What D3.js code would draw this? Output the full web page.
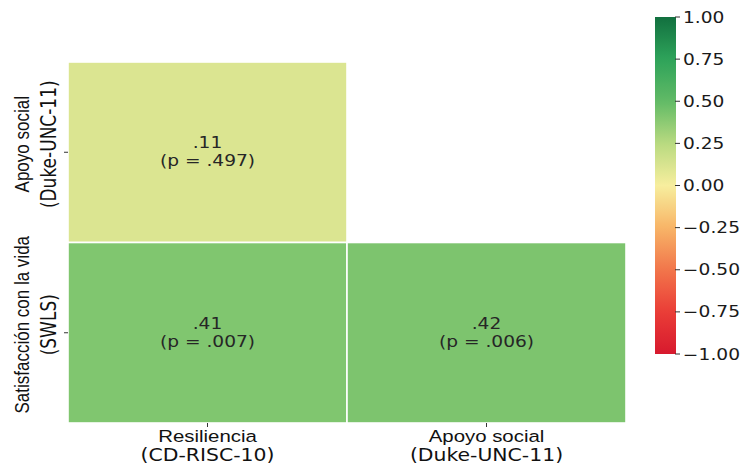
<!DOCTYPE html>
<html>
<head>
<meta charset="utf-8">
<script src="https://cdn.jsdelivr.net/npm/d3@7"></script>
<style>
  html, body { margin: 0; padding: 0; background: #ffffff; }
  svg { display: block; }
</style>
</head>
<body>
<svg id="chart" width="744" height="468"></svg>
<script>
// Correlation matrix (lower triangle) with p-values
const rowLabels = [["Apoyo social", "(Duke-UNC-11)"], ["Satisfacción con la vida", "(SWLS)"]];
const colLabels = [["Resiliencia", "(CD-RISC-10)"], ["Apoyo social", "(Duke-UNC-11)"]];
const rValues = [[0.11, null], [0.41, 0.42]];
const pValues = [[0.497, null], [0.007, 0.006]];
const colorbarTicks = [1.00, 0.75, 0.50, 0.25, 0.00, -0.25, -0.50, -0.75, -1.00];

// Diverging red-yellow-green palette
const paletteStops = [-1, -0.75, -0.5, -0.25, 0, 0.25, 0.5, 0.75, 1];
const paletteColors = ["#d7192e", "#ea3d37", "#f2764b", "#f8b567", "#f7ee9e",
                       "#b8da80", "#61ba66", "#2ea35a", "#12703f"];

const color = d3.scaleLinear().domain(paletteStops).range(paletteColors)
  .interpolate(d3.interpolateRgb).clamp(true);

const svg = d3.select("#chart");
const SX = 1.2; // horizontal text stretch
const textColor = "#262626";

const x = d3.scaleBand().domain(d3.range(colLabels.length)).range([68, 626]);
const y = d3.scaleBand().domain(d3.range(rowLabels.length)).range([62, 423]);

const fmt = v => d3.format(".2f")(v).replace(/^0\./, ".").replace(/^-0\./, "-.");
const fmtP = v => d3.format(".3f")(v).replace(/^0\./, ".");

// Cells
const cells = [];
rValues.forEach((row, i) => row.forEach((v, j) => {
  if (v !== null) cells.push({ i, j, r: v, p: pValues[i][j] });
}));

const g = svg.append("g");
g.selectAll("rect.cell").data(cells).join("rect")
  .attr("class", "cell")
  .attr("x", d => x(d.j))
  .attr("y", d => y(d.i))
  .attr("width", x.bandwidth())
  .attr("height", y.bandwidth())
  .attr("fill", d => color(d.r))
  .attr("stroke", "#ffffff")
  .attr("stroke-width", 1.6);

const labels = g.selectAll("g.val").data(cells).join("g")
  .attr("class", "val")
  .attr("transform", d => `translate(${x(d.j) + x.bandwidth() / 2},${y(d.i) + y.bandwidth() / 2}) scale(${SX},1)`);
labels.append("text")
  .attr("y", -4)
  .attr("text-anchor", "middle")
  .attr("font-family", "DejaVu Sans")
  .attr("font-size", 15.5)
  .attr("fill", textColor)
  .text(d => fmt(d.r));
labels.append("text")
  .attr("y", 14)
  .attr("text-anchor", "middle")
  .attr("font-family", "DejaVu Sans")
  .attr("font-size", 15.5)
  .attr("fill", textColor)
  .text(d => `(p = ${fmtP(d.p)})`);

// Left axis: ticks and rotated labels
const yTicks = svg.append("g");
yTicks.selectAll("line").data(d3.range(rowLabels.length)).join("line")
  .attr("x1", 64).attr("x2", 68)
  .attr("y1", i => y(i) + y.bandwidth() / 2)
  .attr("y2", i => y(i) + y.bandwidth() / 2)
  .attr("stroke", "#333").attr("stroke-width", 1);

const yl = yTicks.selectAll("g.ylab").data(rowLabels).join("g")
  .attr("class", "ylab")
  .attr("transform", (d, i) => `translate(0,${y(i) + y.bandwidth() / 2 - 8}) scale(${SX},1) rotate(-90)`);
yl.append("text")
  .attr("y", 24)
  .attr("text-anchor", "middle")
  .attr("font-family", "Liberation Sans, Arial, sans-serif")
  .attr("font-size", 17)
  .attr("fill", "#111")
  .text(d => d[0]);
yl.append("text")
  .attr("y", 46.5)
  .attr("text-anchor", "middle")
  .attr("font-family", "DejaVu Sans")
  .attr("font-size", 17)
  .attr("fill", "#111")
  .text(d => d[1]);

// Bottom axis: ticks and labels
const xTicks = svg.append("g");
xTicks.selectAll("line").data(d3.range(colLabels.length)).join("line")
  .attr("x1", j => x(j) + x.bandwidth() / 2)
  .attr("x2", j => x(j) + x.bandwidth() / 2)
  .attr("y1", 423).attr("y2", 427)
  .attr("stroke", "#333").attr("stroke-width", 1);

const xl = xTicks.selectAll("g.xlab").data(colLabels).join("g")
  .attr("class", "xlab")
  .attr("transform", (d, j) => `translate(${x(j) + x.bandwidth() / 2},0) scale(${SX},1)`);
xl.append("text")
  .attr("y", 442)
  .attr("text-anchor", "middle")
  .attr("font-family", "Liberation Sans, Arial, sans-serif")
  .attr("font-size", 17)
  .attr("fill", "#111")
  .text(d => d[0]);
xl.append("text")
  .attr("y", 461)
  .attr("text-anchor", "middle")
  .attr("font-family", "DejaVu Sans")
  .attr("font-size", 17)
  .attr("fill", "#111")
  .text(d => d[1]);

// Colorbar
const cb = { x: 655, w: 21, top: 17, bottom: 354 };
const cy = d3.scaleLinear().domain([-1, 1]).range([cb.bottom, cb.top]);

const defs = svg.append("defs");
const grad = defs.append("linearGradient")
  .attr("id", "cbGrad")
  .attr("x1", 0).attr("y1", 1).attr("x2", 0).attr("y2", 0);
grad.selectAll("stop").data(d3.range(0, 1.0001, 0.02)).join("stop")
  .attr("offset", t => t)
  .attr("stop-color", t => color(-1 + 2 * t));

svg.append("rect")
  .attr("x", cb.x).attr("y", cb.top)
  .attr("width", cb.w).attr("height", cb.bottom - cb.top)
  .attr("fill", "url(#cbGrad)");

const cbAxis = svg.append("g");
cbAxis.selectAll("line").data(colorbarTicks).join("line")
  .attr("x1", cb.x + cb.w - 1).attr("x2", cb.x + cb.w + 4)
  .attr("y1", d => cy(d)).attr("y2", d => cy(d))
  .attr("stroke", "#333").attr("stroke-width", 1);
cbAxis.selectAll("g.cbl").data(colorbarTicks).join("g")
  .attr("class", "cbl")
  .attr("transform", d => `translate(${cb.x + cb.w + 7},${cy(d)}) scale(${SX},1)`)
  .append("text")
  .attr("dy", "0.36em")
  .attr("font-family", "DejaVu Sans")
  .attr("font-size", 15.5)
  .attr("fill", "#1a1a1a")
  .text(d => d3.format(".2f")(d).replace("-", "\u2212"));
</script>
</body>
</html>
